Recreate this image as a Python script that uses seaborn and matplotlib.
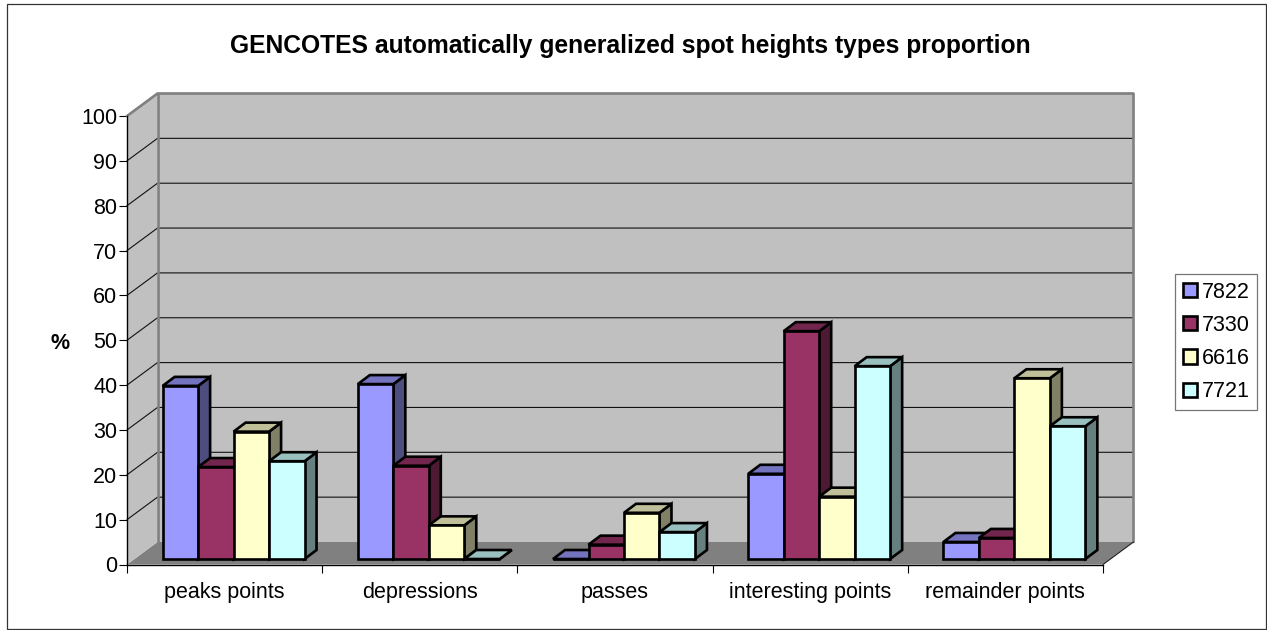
import matplotlib
matplotlib.use("Agg")
import matplotlib.pyplot as plt
from matplotlib.patches import Patch, Polygon, Rectangle
import numpy as np
import pandas as pd
import seaborn as sns

categories = ["peaks points", "depressions", "passes", "interesting points", "remainder points"]
series_names = ["7822", "7330", "6616", "7721"]
s7822 = [38.6, 39.0, 0.0, 19.0, 3.8]
s7330 = [20.5, 20.8, 3.2, 50.8, 4.7]
s6616 = [28.4, 7.5, 10.3, 13.9, 40.3]
s7721 = [21.8, 0.0, 6.0, 43.0, 29.6]
y_ticks = list(range(0, 101, 10))

colors = ["#9999FF", "#993366", "#FFFFCC", "#CCFFFF"]
top_colors = ["#7373BF", "#73264D", "#BFBF99", "#99BFBF"]
side_colors = ["#4D4D80", "#4D1933", "#808066", "#668080"]

W, H = 1267, 630
# plot area in pixels
left, right, bottom, top = 127, 1103, 564.5, 116
px_x = (right - left) / 5
px_y = (bottom - top) / 100
# 3d offsets converted to data units
wall_dx, wall_dy = 30.5 / px_x, 22.5 / px_y
front_dx, front_dy = 9 / px_x, 5.5 / px_y
depth_dx, depth_dy = 12 / px_x, 9 / px_y

data = pd.DataFrame({
    "category": categories * 4,
    "series": np.repeat(series_names, 5),
    "value": s7822 + s7330 + s6616 + s7721,
})

sns.set_theme(style="white")
plt.rcParams["font.family"] = ["Liberation Sans", "DejaVu Sans"]

fig = plt.figure(figsize=(W / 100, H / 100), dpi=100)
ax = fig.add_axes([left / W, 1 - bottom / H, (right - left) / W, (bottom - top) / H])
ax.set_facecolor("none")

sns.barplot(data=data, x="category", y="value", hue="series", order=categories,
            hue_order=series_names, palette=colors, saturation=1, width=0.727, gap=0,
            edgecolor="black", linewidth=1.9, legend=False, ax=ax, zorder=3)

ax.set_xlim(-0.5, 4.5)
ax.set_ylim(0, 100)

x0, x1 = -0.5, 4.5
# floor and walls
ax.add_patch(Polygon([(x0, 0), (x0 + wall_dx, wall_dy), (x1 + wall_dx, wall_dy), (x1, 0)],
                     fc="#808080", ec="none", clip_on=False, zorder=0.5))
ax.add_patch(Polygon([(x0, 0), (x0, 100), (x0 + wall_dx, 100 + wall_dy), (x0 + wall_dx, wall_dy)],
                     fc="#C0C0C0", ec="none", clip_on=False, zorder=0.5))
ax.add_patch(Rectangle((x0 + wall_dx, wall_dy), x1 - x0, 100, fc="#C0C0C0", ec="none",
                       clip_on=False, zorder=0.5))

for v in y_ticks[1:]:
    ax.plot([x0, x0 + wall_dx, x1 + wall_dx], [v, v + wall_dy, v + wall_dy], color="#111111",
            lw=0.8, clip_on=False, zorder=1, solid_joinstyle="miter")

# wall borders
ax.plot([x0, x0 + wall_dx, x1 + wall_dx, x1 + wall_dx], [100, 100 + wall_dy, 100 + wall_dy, wall_dy],
        color="#808080", lw=1.9, clip_on=False, zorder=1.5)
ax.plot([x0 + wall_dx, x0 + wall_dx], [wall_dy, 100 + wall_dy], color="#808080", lw=1.9,
        clip_on=False, zorder=1.5)
ax.plot([x1, x1 + wall_dx], [0, wall_dy], color="#222222", lw=0.8, clip_on=False, zorder=1.5)

# extrude the seaborn bars, painted left to right
for i, container in enumerate(ax.containers):
    for bar in container:
        bx = bar.get_x() + front_dx
        bw = bar.get_width()
        bh = bar.get_height()
        by = front_dy
        bar.set_x(bx)
        bar.set_y(by)
        bar.set_clip_on(False)
        bar.set_joinstyle("miter")
        z = 3 + bx * 0.1
        bar.set_zorder(z + 0.02)
        side = [(bx + bw, by), (bx + bw + depth_dx, by + depth_dy),
                (bx + bw + depth_dx, by + bh + depth_dy), (bx + bw, by + bh)]
        roof = [(bx, by + bh), (bx + depth_dx, by + bh + depth_dy),
                (bx + bw + depth_dx, by + bh + depth_dy), (bx + bw, by + bh)]
        ax.add_patch(Polygon(side, fc=side_colors[i], ec="black", lw=1.9, clip_on=False,
                             zorder=z, joinstyle="miter"))
        ax.add_patch(Polygon(roof, fc=top_colors[i], ec="black", lw=1.9, clip_on=False,
                             zorder=z + 0.01, joinstyle="miter"))

sns.despine(ax=ax, top=True, right=True)
for name in ["left", "bottom"]:
    ax.spines[name].set_color("black")
    ax.spines[name].set_linewidth(1.0)
    ax.spines[name].set_zorder(2)

ax.set_yticks(y_ticks)
ax.tick_params(axis="y", length=5.5, width=0.8, color="black", labelsize=15.5, pad=1.5,
               labelcolor="black", left=True)
ax.set_xticks(range(5))
ax.set_xticklabels(categories)
ax.set_xticks(np.arange(-0.5, 5), minor=True)
ax.tick_params(axis="x", which="major", length=0, labelsize=15.5, pad=12.4, labelcolor="black")
ax.tick_params(axis="x", which="minor", length=5.5, width=0.8, color="black", bottom=True)
ax.set_xlabel("")
ax.set_ylabel("%", rotation=0, fontsize=15.5, fontweight="bold", color="black", labelpad=15.5,
              va="center", y=0.493)

fig.text(630 / W, 1 - 45.5 / H, "GENCOTES automatically generalized spot heights types proportion",
         ha="center", va="center", fontsize=17.7, fontweight="bold", color="black")

handles = [Patch(facecolor=c, edgecolor="black", linewidth=1.9, label=n)
           for c, n in zip(colors, series_names)]
leg = fig.legend(handles=handles, loc="center left", bbox_to_anchor=(1175 / W, 1 - 342 / H),
                 frameon=True, fancybox=False, edgecolor="#555555", facecolor="white",
                 fontsize=15.5, handlelength=0.65, handleheight=0.65, handletextpad=0.25,
                 labelspacing=0.57, borderpad=0.35, borderaxespad=0, labelcolor="black")
leg.get_frame().set_linewidth(0.9)

# outer chart frame
fig.add_artist(Rectangle((6.5 / W, 1 - 629 / H), 1259.5 / W, 625 / H, transform=fig.transFigure,
                         fc="none", ec="#333333", lw=0.9))

fig.savefig("out.png", dpi=100)
